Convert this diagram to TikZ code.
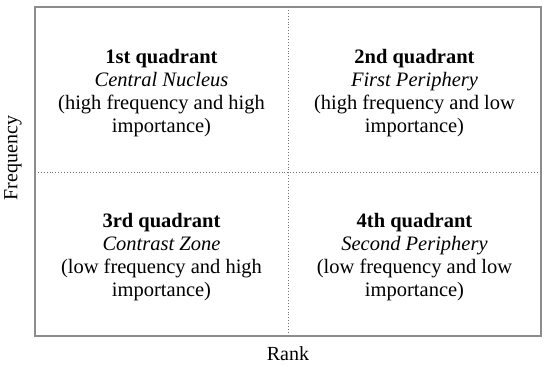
\documentclass[tikz,border=0pt]{standalone}
\usepackage{fontspec}
\setmainfont{Liberation Serif}
\begin{document}
\begin{tikzpicture}[x=1pt,y=-1pt,
  quad/.style={align=center,font=\fontsize{20.5}{23}\selectfont,inner sep=0pt},
  lab/.style={font=\fontsize{20}{23}\selectfont,inner sep=0pt},
  frame/.style={draw=black!45,line width=1.1pt},
  divider/.style={draw=black!55,line width=0.9pt,dotted}]
\useasboundingbox (0,0) rectangle (550,367);
\coordinate (tl) at (35,7);
\coordinate (br) at (541,336);
\coordinate (vt) at (288,7);
\coordinate (vb) at (288,336);
\coordinate (hl) at (35,172);
\coordinate (hr) at (541,172);
\draw[divider] (vt) -- (vb);
\draw[divider] (hl) -- (hr);
\draw[frame] (tl) rectangle (br);
\node[quad] (q1) at (161.5,93) {\textbf{1st quadrant}\\\textit{Central Nucleus}\\(high frequency and high\\importance)};
\node[quad] (q2) at (414.5,93) {\textbf{2nd quadrant}\\\textit{First Periphery}\\(high frequency and low\\importance)};
\node[quad] (q3) at (161.5,257) {\textbf{3rd quadrant}\\\textit{Contrast Zone}\\(low frequency and high\\importance)};
\node[quad] (q4) at (414.5,257) {\textbf{4th quadrant}\\\textit{Second Periphery}\\(low frequency and low\\importance)};
\node[lab,rotate=90] (freq) at (13,158) {Frequency};
\node[lab] (rank) at (288,354) {Rank};
\end{tikzpicture}
\end{document}
